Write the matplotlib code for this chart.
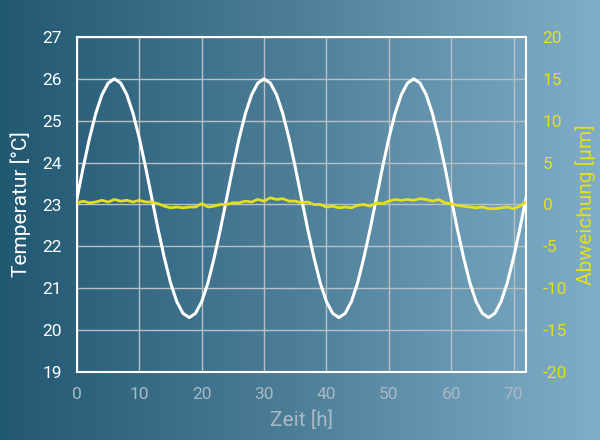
import numpy as np
import matplotlib
matplotlib.use("Agg")
import matplotlib.pyplot as plt
from matplotlib.colors import LinearSegmentedColormap

# Zeit in Stunden
zeit = list(range(0, 73))

temperatur = [
    23.15, 23.89, 24.58, 25.17, 25.62, 25.90, 26.00, 25.90, 25.62, 25.17, 24.58, 23.89,
    23.15, 22.41, 21.73, 21.13, 20.68, 20.40, 20.30, 20.40, 20.68, 21.13, 21.73, 22.41,
    23.15, 23.89, 24.58, 25.17, 25.62, 25.90, 26.00, 25.90, 25.62, 25.17, 24.58, 23.89,
    23.15, 22.41, 21.73, 21.13, 20.68, 20.40, 20.30, 20.40, 20.68, 21.13, 21.73, 22.41,
    23.15, 23.89, 24.58, 25.17, 25.62, 25.90, 26.00, 25.90, 25.62, 25.17, 24.58, 23.89,
    23.15, 22.41, 21.73, 21.13, 20.68, 20.40, 20.30, 20.40, 20.68, 21.13, 21.73, 22.41,
    23.15,
]

abweichung = [
    0.2, 0.4, 0.2, 0.3, 0.5, 0.3, 0.6, 0.4, 0.5, 0.3, 0.5, 0.3,
    0.3, 0.1, -0.2, -0.4, -0.3, -0.4, -0.3, -0.3, 0.1, -0.3, -0.2, 0.0,
    0.0, 0.2, 0.2, 0.4, 0.3, 0.6, 0.4, 0.8, 0.6, 0.7, 0.4, 0.4,
    0.2, 0.3, 0.0, 0.0, -0.3, -0.2, -0.4, -0.3, -0.4, -0.1, 0.0, -0.2,
    0.2, 0.1, 0.4, 0.6, 0.5, 0.6, 0.5, 0.7, 0.6, 0.4, 0.6, 0.2,
    0.1, -0.1, -0.2, -0.3, -0.4, -0.3, -0.5, -0.5, -0.4, -0.3, -0.5, -0.2,
    0.3,
]

gelb = "#e3df1c"
grau = "#a9b9c4"
plt.rcParams["font.family"] = ["Roboto", "DejaVu Sans"]
plt.rcParams["axes.unicode_minus"] = False

fig = plt.figure(figsize=(6, 4.4), dpi=100)

# Hintergrund mit Farbverlauf
bg = fig.add_axes([0, 0, 1, 1], zorder=-10)
cmap = LinearSegmentedColormap.from_list("bg", ["#215872", "#4e7f99", "#80aec9"])
bg.imshow(np.linspace(0, 1, 256).reshape(1, -1), aspect="auto", cmap=cmap,
          extent=[0, 1, 0, 1])
bg.axis("off")

ax = fig.add_axes([77 / 600, 68 / 440, 449 / 600, 335 / 440])
ax.set_facecolor("none")
ax.plot(zeit, temperatur, color="white", lw=2.2, zorder=3)
ax.set_xlim(0, 72)
ax.set_ylim(19, 27)
ax.set_xticks(range(0, 80, 10))
ax.set_yticks(range(19, 28))
ax.grid(True, color="#b8c0c4", lw=1)
for s in ax.spines.values():
    s.set_color("white")
    s.set_linewidth(1.5)
ax.tick_params(axis="y", length=0, pad=11, labelsize=12.5, colors="white")
ax.tick_params(axis="x", length=0, pad=11, labelsize=12.5, colors=grau)
ax.set_xlabel("Zeit [h]", color=grau, fontsize=15, labelpad=6)
ax.set_ylabel("Temperatur [°C]", color="white", fontsize=15, labelpad=8)

ax2 = ax.twinx()
ax2.plot(zeit, abweichung, color=gelb, lw=2, zorder=4)
ax2.set_ylim(-20, 20)
ax2.set_yticks(range(-20, 25, 5))
ax2.tick_params(axis="y", length=0, pad=12, labelsize=12.5, colors=gelb)
ax2.set_ylabel("Abweichung [µm]", color=gelb, fontsize=15, labelpad=6)
for s in ax2.spines.values():
    s.set_visible(False)

fig.savefig("out.png", dpi=100)
